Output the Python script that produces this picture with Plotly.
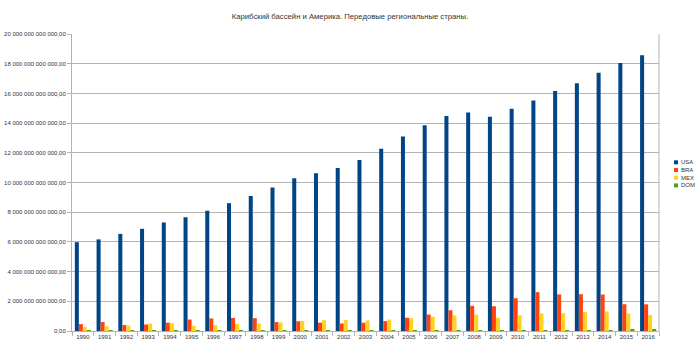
import plotly.graph_objects as go

# GDP, current US$, by year
years = [str(y) for y in range(1990, 2017)]
usa = [5.98e12, 6.17e12, 6.54e12, 6.88e12, 7.31e12, 7.66e12, 8.10e12, 8.61e12, 9.09e12,
       9.66e12, 10.28e12, 10.62e12, 10.98e12, 11.51e12, 12.27e12, 13.09e12, 13.86e12,
       14.48e12, 14.72e12, 14.42e12, 14.96e12, 15.52e12, 16.16e12, 16.69e12, 17.39e12,
       18.04e12, 18.57e12]
bra = [0.462e12, 0.602e12, 0.400e12, 0.437e12, 0.558e12, 0.769e12, 0.850e12, 0.883e12,
       0.864e12, 0.599e12, 0.655e12, 0.559e12, 0.508e12, 0.558e12, 0.669e12, 0.892e12,
       1.108e12, 1.397e12, 1.696e12, 1.667e12, 2.209e12, 2.616e12, 2.465e12, 2.473e12,
       2.456e12, 1.802e12, 1.796e12]
mex = [0.262e12, 0.314e12, 0.363e12, 0.500e12, 0.527e12, 0.344e12, 0.397e12, 0.481e12,
       0.502e12, 0.579e12, 0.684e12, 0.725e12, 0.742e12, 0.713e12, 0.770e12, 0.866e12,
       0.966e12, 1.043e12, 1.101e12, 0.895e12, 1.058e12, 1.180e12, 1.201e12, 1.274e12,
       1.315e12, 1.172e12, 1.078e12]
dom = [7.1e9, 7.9e9, 9.3e9, 10.2e9, 11.1e9, 12.9e9, 14.2e9, 15.9e9, 17.1e9, 18.0e9,
       24.0e9, 25.0e9, 26.3e9, 21.6e9, 22.4e9, 35.5e9, 37.9e9, 42.0e9, 45.8e9, 46.5e9,
       53.0e9, 57.7e9, 60.6e9, 61.9e9, 66.1e9, 68.8e9, 72.2e9]

series_names = ["USA", "BRA", "MEX", "DOM"]
series_values = [usa, bra, mex, dom]
series_colors = ["#004586", "#ff420e", "#ffd320", "#579d1c"]

title_text = "Карибский бассейн и Америка. Передовые региональные страны."

y_ticks = [i * 2e12 for i in range(11)]


def fmt_tick(v):
    s = f"{int(round(v)):,}".replace(",", " ")
    return s + ",00"


y_ticktext = [fmt_tick(v) for v in y_ticks]

FONT = "Liberation Sans, Arial, sans-serif"
GRID = "#b3b3b3"
TEXT = "#333333"

fig = go.Figure()
for name, vals, col in zip(series_names, series_values, series_colors):
    fig.add_trace(go.Bar(x=years, y=vals, name=name, marker_color=col,
                         marker_line_width=0, showlegend=False))

# plot area geometry (pixels)
L, R, T, B = 72, 41, 34, 17
W, H = 700, 348
pw, ph = W - L - R, H - T - B

# hand-built compact legend
shapes = []
annotations = []
leg_x_px = 674
leg_y0_px = 162.3
leg_step = 7.7
for i, (name, col) in enumerate(zip(series_names, series_colors)):
    cy = leg_y0_px + i * leg_step
    x0 = (leg_x_px - L) / pw
    x1 = (leg_x_px + 4 - L) / pw
    y0 = (H - B - (cy + 2)) / ph
    y1 = (H - B - (cy - 2)) / ph
    shapes.append(dict(type="rect", xref="paper", yref="paper", x0=x0, x1=x1, y0=y0, y1=y1,
                       fillcolor=col, line_width=0))
    annotations.append(dict(xref="paper", yref="paper", x=(leg_x_px + 5 - L) / pw,
                            y=(H - B - cy) / ph, text=name, showarrow=False,
                            xanchor="left", yanchor="middle",
                            font=dict(family=FONT, size=6, color=TEXT)))

# right border of the plot area
shapes.append(dict(type="line", xref="paper", yref="paper", x0=1, x1=1, y0=0, y1=1,
                   line=dict(color=GRID, width=1)))

fig.update_layout(
    width=W, height=H,
    margin=dict(l=L, r=R, t=T, b=B, pad=0, autoexpand=False),
    paper_bgcolor="white", plot_bgcolor="white",
    barmode="group", bargap=0.26, bargroupgap=0,
    title=dict(text=title_text, x=0.5, xref="container", xanchor="center",
               y=1 - 16 / H, yanchor="middle",
               font=dict(family=FONT, size=7.7, color=TEXT)),
    font=dict(family=FONT, size=6, color=TEXT),
    shapes=shapes, annotations=annotations,
    showlegend=False,
)
fig.update_xaxes(type="category", tickson="boundaries", ticks="outside", ticklen=4,
                 tickcolor=GRID, showline=True, linecolor=GRID, linewidth=1,
                 showgrid=False, tickangle=0, automargin=False,
                 tickfont=dict(family=FONT, size=6, color=TEXT))
fig.update_yaxes(range=[0, 20e12], tickvals=y_ticks, ticktext=y_ticktext,
                 ticks="outside", ticklen=4, tickcolor=GRID,
                 showline=True, linecolor=GRID, linewidth=1, automargin=False,
                 showgrid=True, gridcolor=GRID, gridwidth=1, zeroline=False,
                 tickfont=dict(family=FONT, size=6, color=TEXT))

fig.write_html("out.html")
